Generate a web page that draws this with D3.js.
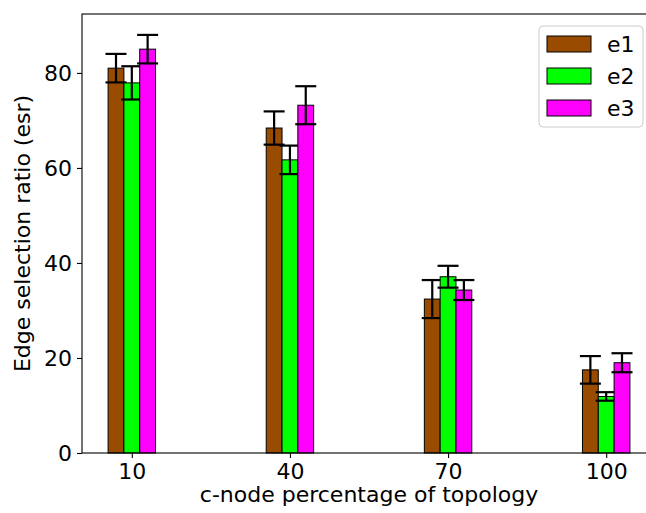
<!DOCTYPE html>
<html>
<head>
<meta charset="utf-8">
<script src="https://cdn.jsdelivr.net/npm/d3@7"></script>
<style>
  html, body { margin: 0; padding: 0; background: #fff; overflow: hidden; }
  svg { display: block; font-family: "DejaVu Sans", sans-serif; }
</style>
</head>
<body>
<svg id="chart" width="646" height="513"></svg>
<script>
const categories = [10, 40, 70, 100];
const seriesNames = ["e1", "e2", "e3"];
const e1 = [81.0, 68.4, 32.4, 17.5];
const e1Err = [3.0, 3.5, 4.0, 2.9];
const e2 = [77.9, 61.7, 37.1, 11.9];
const e2Err = [3.5, 3.0, 2.3, 0.9];
const e3 = [85.0, 73.2, 34.3, 19.0];
const e3Err = [3.0, 4.0, 2.1, 2.0];
const yTicks = [0, 20, 40, 60, 80];
const colors = ["#994c00", "#00ff00", "#ff00ff"];

const values = [e1, e2, e3];
const errors = [e1Err, e2Err, e3Err];
const barW = 3;           // bar width in data units
const offsets = [-3, 0, 3];

const svg = d3.select("#chart");
const L = 82, R = 656, T = 14, B = 453;

const x = d3.scaleLinear().domain([0.55, 109.45]).range([L, R]);
const y = d3.scaleLinear().domain([0, 92.4]).range([B, T]);

const plot = svg.append("g");

seriesNames.forEach((name, si) => {
  const data = categories.map((c, i) => ({c, v: values[si][i], e: errors[si][i]}));
  const g = plot.append("g");
  g.selectAll("rect").data(data).enter().append("rect")
    .attr("x", d => x(d.c + offsets[si] - barW / 2))
    .attr("y", d => y(d.v))
    .attr("width", d => x(d.c + offsets[si] + barW / 2) - x(d.c + offsets[si] - barW / 2))
    .attr("height", d => y(0) - y(d.v))
    .attr("fill", colors[si])
    .attr("stroke", "#000")
    .attr("stroke-width", 1);
  const eg = g.selectAll("g.err").data(data).enter().append("g")
    .attr("stroke", "#000").attr("stroke-width", 2.2);
  const cx = d => x(d.c + offsets[si]);
  eg.append("line")
    .attr("x1", cx).attr("x2", cx)
    .attr("y1", d => y(d.v - d.e)).attr("y2", d => y(d.v + d.e));
  eg.append("line")
    .attr("x1", d => cx(d) - 10.5).attr("x2", d => cx(d) + 10.5)
    .attr("y1", d => y(d.v + d.e)).attr("y2", d => y(d.v + d.e));
  eg.append("line")
    .attr("x1", d => cx(d) - 10.5).attr("x2", d => cx(d) + 10.5)
    .attr("y1", d => y(d.v - d.e)).attr("y2", d => y(d.v - d.e));
});

// axes
const yAxis = d3.axisLeft(y).tickValues(yTicks).tickSize(5).tickPadding(5);
const gy = svg.append("g").attr("transform", `translate(${L},0)`).call(yAxis);
const xAxis = d3.axisBottom(x).tickValues(categories).tickSize(5).tickPadding(5);
const gx = svg.append("g").attr("transform", `translate(0,${B})`).call(xAxis);

[gx, gy].forEach(g => {
  g.select(".domain").remove();
  g.selectAll(".tick line").attr("stroke", "#000").attr("stroke-width", 1.1);
  g.selectAll(".tick text").attr("fill", "#000").style("font-size", "22px")
    .style("font-family", "DejaVu Sans, sans-serif");
});
gy.selectAll(".tick text").attr("dy", "0.36em");

// spines
const sp = svg.append("g").attr("stroke", "#000").attr("stroke-width", 1.1).attr("fill", "none");
sp.append("rect").attr("x", L).attr("y", T).attr("width", R - L).attr("height", B - T);

// axis labels
svg.append("text").attr("x", (L + R) / 2).attr("y", 502)
  .attr("text-anchor", "middle").style("font-size", "22px").attr("fill", "#000")
  .text("c-node percentage of topology");
svg.append("text")
  .attr("transform", `translate(30,${(T + B) / 2}) rotate(-90)`)
  .attr("text-anchor", "middle").style("font-size", "22px").attr("fill", "#000")
  .text("Edge selection ratio (esr)");

// legend
const lg = svg.append("g");
lg.append("rect").attr("x", 539).attr("y", 26).attr("width", 104).attr("height", 101)
  .attr("rx", 4).attr("fill", "#fff").attr("fill-opacity", 0.8)
  .attr("stroke", "#cccccc").attr("stroke-width", 1);
seriesNames.forEach((name, si) => {
  const yy = 36 + si * 32;
  lg.append("rect").attr("x", 547).attr("y", yy).attr("width", 44).attr("height", 16)
    .attr("fill", colors[si]).attr("stroke", "#000").attr("stroke-width", 1);
  lg.append("text").attr("x", 607).attr("y", yy + 16).style("font-size", "22px")
    .attr("fill", "#000").text(name);
});
</script>
</body>
</html>
